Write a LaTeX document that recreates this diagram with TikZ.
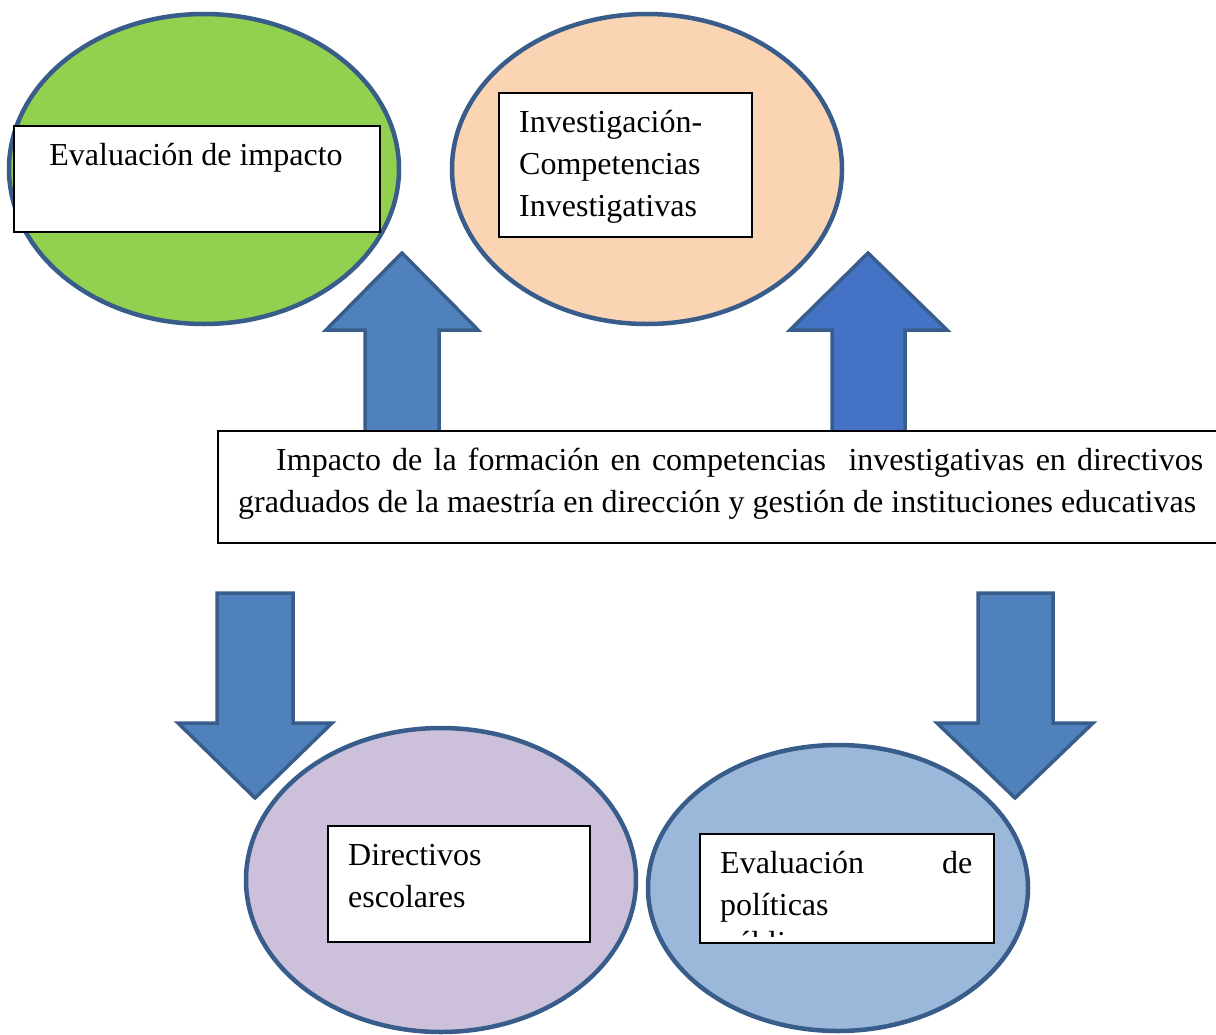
\documentclass[tikz,border=0pt]{standalone}
\usepackage{fontspec}
\setmainfont{Liberation Serif}
\hyphenpenalty=10000
\tolerance=10000
\definecolor{rim}{HTML}{385D8A}
\definecolor{greenfill}{HTML}{92D050}
\definecolor{peachfill}{HTML}{FBD4B4}
\definecolor{lilacfill}{HTML}{CCC0DA}
\definecolor{skyfill}{HTML}{9BB8DA}
\definecolor{arrowblue}{HTML}{4F81BD}
\definecolor{arrowdark}{HTML}{4472C4}
\tikzset{
  bubble/.style={draw=rim,line width=4.5pt},
  blockarrow/.style={draw=rim,line width=3.5pt,line join=miter,fill=arrowblue},
  txtbox/.style={draw=black,line width=2pt,fill=white,inner sep=0pt,anchor=north west},
  txt/.style={inner sep=0pt,font=\fontsize{32}{42}\selectfont},
}
\begin{document}
\begin{tikzpicture}[x=1pt,y=-1pt]
        \useasboundingbox (0,0) rectangle (1216,1034);
        %% evaluacion de impacto
        \draw[bubble,fill=greenfill] (204,169) ellipse (195 and 155);
        \node[txtbox,minimum width=366pt,minimum height=106pt] (impBox) at (13,125) {};
        \node[txt,anchor=base] (impText) at (196,165) {Evaluación de impacto};
        %% investigacion
        \draw[bubble,fill=peachfill] (647,169) ellipse (195 and 155);
        \node[txtbox,minimum width=253pt,minimum height=144pt] (invBox) at (498,92) {};
        \node[txt,anchor=base west,text width=220pt,align=left] (invText) at (519,132) {Investigación-\\Competencias\\Investigativas};
        %% directivos
        \draw[bubble,fill=lilacfill] (441,880) ellipse (195 and 152);
        \node[txtbox,minimum width=262pt,minimum height=116pt] (dirBox) at (327,825) {};
        \node[txt,anchor=base west,text width=220pt,align=left] (dirText) at (348,865) {Directivos\\escolares};
        %% politicas
        \draw[bubble,fill=skyfill] (838,888) ellipse (190 and 143);
        \node[txtbox,minimum width=294pt,minimum height=109pt] (polBox) at (699,833) {};
        \begin{scope}
          \clip (polBox.north west) rectangle ([yshift=8pt]polBox.south east);
          \node[txt,anchor=base west,text width=252pt,align=left] (polText) at (720,873) {Evaluación\hfill de\\políticas\\[-4pt]públicas};
        \end{scope}
        %% arrows up
        \draw[blockarrow] (402,253) -- (478,330) -- (439,330) -- (439,436) -- (365,436) -- (365,330) -- (326,330) -- cycle;
        \draw[blockarrow,fill=arrowdark] (868,253) -- (947,330) -- (905,330) -- (905,436) -- (832,436) -- (832,330) -- (790,330) -- cycle;
        %% arrows down
        \draw[blockarrow] (255,798) -- (332,723) -- (293,723) -- (293,593) -- (217,593) -- (217,723) -- (178,723) -- cycle;
        \draw[blockarrow] (1015,798) -- (1093,723) -- (1053,723) -- (1053,593) -- (978,593) -- (978,723) -- (937,723) -- cycle;
        %% central box
        \node[txtbox,minimum width=1020pt,minimum height=112pt] (mainBox) at (217,430) {};
        \node[txt,anchor=base west,text width=965pt,align=justify] (mainText) at (238,470)
          {\hspace*{38pt}Impacto de la formación en competencias~ investigativas en directivos graduados de la maestría en dirección y gestión de instituciones educativas};
\end{tikzpicture}
\end{document}
